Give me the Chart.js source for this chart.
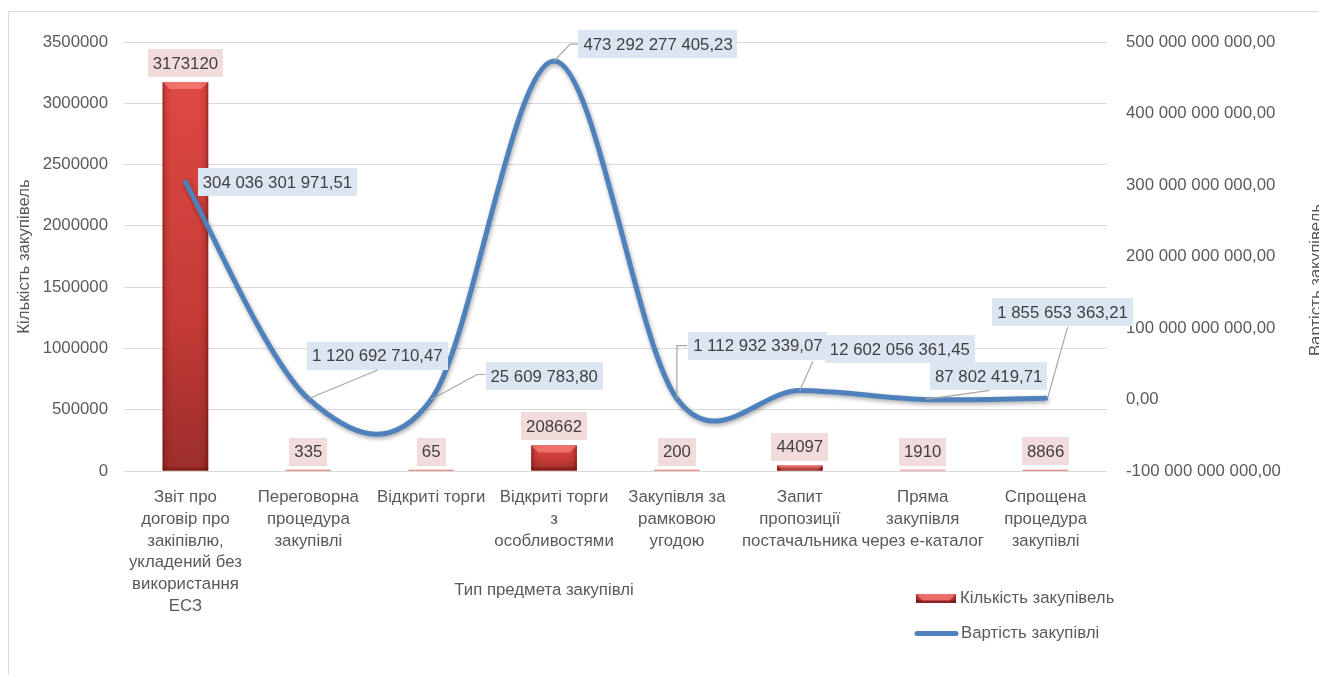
<!DOCTYPE html>
<html><head><meta charset="utf-8">
<script src="https://cdn.jsdelivr.net/npm/chart.js@4"></script>
<style>html,body{margin:0;padding:0;background:#fff}#wrap{width:1319px;height:675px;position:relative}</style>
</head><body><div id="wrap"><canvas id="c" width="1319" height="675"></canvas></div>
<script>
// ---- data ----
const categories = [
  ["Звіт про", "договір про", "закіпівлю,", "укладений без", "використання", "ЕСЗ"],
  ["Переговорна", "процедура", "закупівлі"],
  ["Відкриті торги"],
  ["Відкриті торги", "з", "особливостями"],
  ["Закупівля за", "рамковою", "угодою"],
  ["Запит", "пропозиції", "постачальника"],
  ["Пряма", "закупівля", "через е-каталог"],
  ["Спрощена", "процедура", "закупівлі"]
];
const purchaseCounts = [3173120, 335, 65, 208662, 200, 44097, 1910, 8866];
const purchaseValues = [304036301971.51, 1120692710.47, 25609783.80, 473292277405.23, 1112932339.07, 12602056361.45, 87802419.71, 1855653363.21];
const countTicks = [0, 500000, 1000000, 1500000, 2000000, 2500000, 3000000, 3500000];
const valueTicks = [-100000000000, 0, 100000000000, 200000000000, 300000000000, 400000000000, 500000000000];
const seriesNames = ["Кількість закупівель", "Вартість закупівлі"];
const axisTitles = { x: "Тип предмета закупівлі", left: "Кількість закупівель", right: "Вартість закупівель" };

// ---- layout / style (not data) ----
const valueLabelBoxOffsets = [[92,0],[69,-43],[113,-23],[104,-17],[81,-53],[100,-41],[66,-23],[17,-86]];
const valueLabelLeaders = [[], [[0,0],[70,-29]], [[0,0],[46,-25],[54,-25]], [[0,0],[16,-17],[24,-17]],
  [[0,0],[0,-53],[10,-53]], [[0,0],[13,-29]], [[3,0],[67,-9]], [[2,0],[22,-71]]];

const FF = "'Liberation Sans', Arial, sans-serif";
const FS = 16.8;
const TXT = '#595959';
const LBL = '#404040';
const GRID = '#d9d9d9';
const BLUE = '#4f81bd';
const RED = '#d8423d';

function fmtMoney(v){
  const neg = v < 0;
  let [i, d] = Math.abs(v).toFixed(2).split('.');
  i = i.replace(/\B(?=(\d{3})+(?!\d))/g, ' ');
  return (neg ? '-' : '') + i + ',' + d;
}

function labelBox(ctx, text, cx, cy, fill){
  ctx.font = FS + 'px ' + FF;
  const w = ctx.measureText(text).width + 10, h = 28;
  ctx.fillStyle = fill;
  ctx.fillRect(Math.round(cx - w/2), Math.round(cy - h/2), Math.round(w), h);
  ctx.fillStyle = LBL;
  ctx.textAlign = 'center';
  ctx.textBaseline = 'middle';
  ctx.fillText(text, cx, cy + 1);
}

function drawBar3D(ctx, x0, x1, top, bottom){
  const h = bottom - top;
  if (h <= 0) return;
  const g = ctx.createLinearGradient(0, top, 0, bottom);
  g.addColorStop(0, '#de4843');
  g.addColorStop(0.6, '#c63b37');
  g.addColorStop(1, '#9c2e2b');
  ctx.fillStyle = g;
  ctx.fillRect(x0, top, x1 - x0, h);
  const w = x1 - x0;
  const hg = ctx.createLinearGradient(x0, 0, x1, 0);
  hg.addColorStop(0, 'rgba(80,0,0,0.45)');
  hg.addColorStop(0.07, 'rgba(80,0,0,0.12)');
  hg.addColorStop(0.2, 'rgba(80,0,0,0)');
  hg.addColorStop(0.8, 'rgba(80,0,0,0)');
  hg.addColorStop(0.93, 'rgba(80,0,0,0.12)');
  hg.addColorStop(1, 'rgba(80,0,0,0.45)');
  ctx.fillStyle = hg;
  ctx.fillRect(x0, top, w, h);
  const b = Math.min(7, h);
  ctx.fillStyle = 'rgba(255,150,140,0.55)';
  ctx.beginPath();
  ctx.moveTo(x0, top); ctx.lineTo(x1, top); ctx.lineTo(x1 - b, top + b); ctx.lineTo(x0 + b, top + b); ctx.closePath();
  ctx.fill();
  const bb = Math.min(3, h);
  ctx.fillStyle = 'rgba(90,10,10,0.35)';
  ctx.fillRect(x0, bottom - bb, w, bb);
}

// Excel-style smoothing: Catmull-Rom control points (1/6 of neighbour span) on the library's own points
function excelSmooth(meta, chartArea){
  const line = meta.dataset;
  line.updateControlPoints(chartArea, 'x');
  const pts = meta.data;
  const n = pts.length;
  for (let i = 0; i < n; i++){
    const p = pts[i];
    const prev = pts[Math.max(0, i - 1)];
    const next = pts[Math.min(n - 1, i + 1)];
    const tx = (next.x - prev.x) / 6, ty = (next.y - prev.y) / 6;
    p.cp1x = p.x - tx; p.cp1y = p.y - ty;
    p.cp2x = p.x + tx; p.cp2y = p.y + ty;
  }
  line._path = undefined;
}

const fx = {
  id: 'fx',
  beforeDraw(chart){
    const ctx = chart.ctx;
    ctx.save();
    ctx.fillStyle = '#fff';
    ctx.fillRect(0, 0, chart.width, chart.height);
    ctx.strokeStyle = GRID;
    ctx.lineWidth = 1;
    ctx.beginPath();
    ctx.moveTo(8.5, 675); ctx.lineTo(8.5, 11.5); ctx.lineTo(1319, 11.5);
    ctx.stroke();
    ctx.restore();
  },
  beforeDatasetDraw(chart, args){
    if (args.meta.type === 'line'){
      excelSmooth(args.meta, chart.chartArea);
      const ctx = chart.ctx;
      ctx.save();
      ctx.shadowColor = 'rgba(0,0,0,0.35)';
      ctx.shadowBlur = 4;
      ctx.shadowOffsetX = 1;
      ctx.shadowOffsetY = 2;
    }
  },
  afterDatasetDraw(chart, args){
    const ctx = chart.ctx;
    if (args.meta.type === 'line'){ ctx.restore(); return; }
    if (args.meta.type === 'bar'){
      ctx.save();
      args.meta.data.forEach(el => {
        const x0 = el.x - el.width/2, x1 = el.x + el.width/2;
        const top = Math.min(el.y, el.base), bottom = Math.max(el.y, el.base);
        if (bottom - top < 1){
          ctx.fillStyle = 'rgba(230,120,115,0.6)';
          ctx.fillRect(x0, el.base - 1, el.width, 1);
        } else drawBar3D(ctx, x0, x1, top, bottom);
      });
      ctx.restore();
    }
  },
  afterDraw(chart){
    const ctx = chart.ctx;
    ctx.save();
    const bm = chart.getDatasetMeta(0);
    bm.data.forEach((el, i) => {
      const top = Math.min(el.y, el.base);
      labelBox(ctx, String(purchaseCounts[i]), el.x, top - 5 - 14, '#f2dcdb');
    });
    const lm = chart.getDatasetMeta(1);
    lm.data.forEach((el, i) => {
      const L = valueLabelLeaders[i];
      if (L.length){
        ctx.strokeStyle = '#a6a6a6';
        ctx.lineWidth = 1.2;
        ctx.beginPath();
        L.forEach((p, k) => { k ? ctx.lineTo(el.x + p[0], el.y + p[1]) : ctx.moveTo(el.x + p[0], el.y + p[1]); });
        ctx.stroke();
      }
    });
    lm.data.forEach((el, i) => {
      const o = valueLabelBoxOffsets[i];
      labelBox(ctx, fmtMoney(purchaseValues[i]), el.x + o[0], el.y + o[1], '#dce6f2');
    });
    ctx.fillStyle = TXT;
    ctx.font = FS + 'px ' + FF;
    ctx.textAlign = 'center';
    ctx.textBaseline = 'middle';
    ctx.fillText(axisTitles.x, 544, 590);
    const ca = chart.chartArea;
    ctx.save();
    ctx.translate(16, (ca.top + ca.bottom)/2);
    ctx.rotate(-Math.PI/2);
    ctx.textBaseline = 'top';
    ctx.fillText(axisTitles.left, 0, 0);
    ctx.restore();
    ctx.save();
    ctx.translate(1308, 280);
    ctx.rotate(-Math.PI/2);
    ctx.textBaseline = 'top';
    ctx.fillText(axisTitles.right, 0, 0);
    ctx.restore();
    drawBar3D(ctx, 916, 956, 594, 603);
    ctx.strokeStyle = BLUE;
    ctx.lineWidth = 5;
    ctx.lineCap = 'round';
    ctx.beginPath(); ctx.moveTo(917, 633.5); ctx.lineTo(956, 633.5); ctx.stroke();
    ctx.fillStyle = TXT;
    ctx.textAlign = 'left';
    ctx.textBaseline = 'middle';
    ctx.fillText(seriesNames[0], 960, 598.5);
    ctx.fillText(seriesNames[1], 961, 633.5);
    ctx.restore();
  }
};

new Chart(document.getElementById('c'), {
  data: {
    labels: categories,
    datasets: [
      { type: 'bar', label: seriesNames[0], data: purchaseCounts, yAxisID: 'y', backgroundColor: RED,
        order: 1, barPercentage: 0.37, categoryPercentage: 1.0 },
      { type: 'line', label: seriesNames[1], data: purchaseValues, yAxisID: 'y1', borderColor: BLUE,
        borderWidth: 5, tension: 0.4, pointRadius: 0, order: 0, fill: false, borderCapStyle: 'round' }
    ]
  },
  options: {
    responsive: false,
    animation: false,
    devicePixelRatio: 1,
    layout: { padding: { left: 0, right: 0, top: 42, bottom: 0 } },
    plugins: { legend: { display: false }, tooltip: { enabled: false } },
    scales: {
      x: {
        grid: { display: false, drawTicks: false },
        border: { display: false },
        ticks: { color: TXT, font: { family: FF, size: FS, lineHeight: 1.29 }, padding: 16, maxRotation: 0, autoSkip: false },
        afterFit(s){ s.height = 204; }
      },
      y: {
        position: 'left',
        min: countTicks[0], max: countTicks[countTicks.length - 1],
        afterBuildTicks(s){ s.ticks = countTicks.map(v => ({ value: v })); },
        grid: { color: GRID, drawTicks: false, lineWidth: 1 },
        border: { display: false },
        ticks: { color: TXT, font: { family: FF, size: FS }, padding: 16, callback: v => String(v) },
        afterFit(s){ s.width = 124; }
      },
      y1: {
        position: 'right',
        min: valueTicks[0], max: valueTicks[valueTicks.length - 1],
        afterBuildTicks(s){ s.ticks = valueTicks.map(v => ({ value: v })); },
        grid: { display: false, drawTicks: false },
        border: { display: false },
        ticks: { color: TXT, font: { family: FF, size: FS }, padding: 19, callback: v => fmtMoney(v) },
        afterFit(s){ s.width = 212; }
      }
    }
  },
  plugins: [fx]
});
</script>
</body></html>
